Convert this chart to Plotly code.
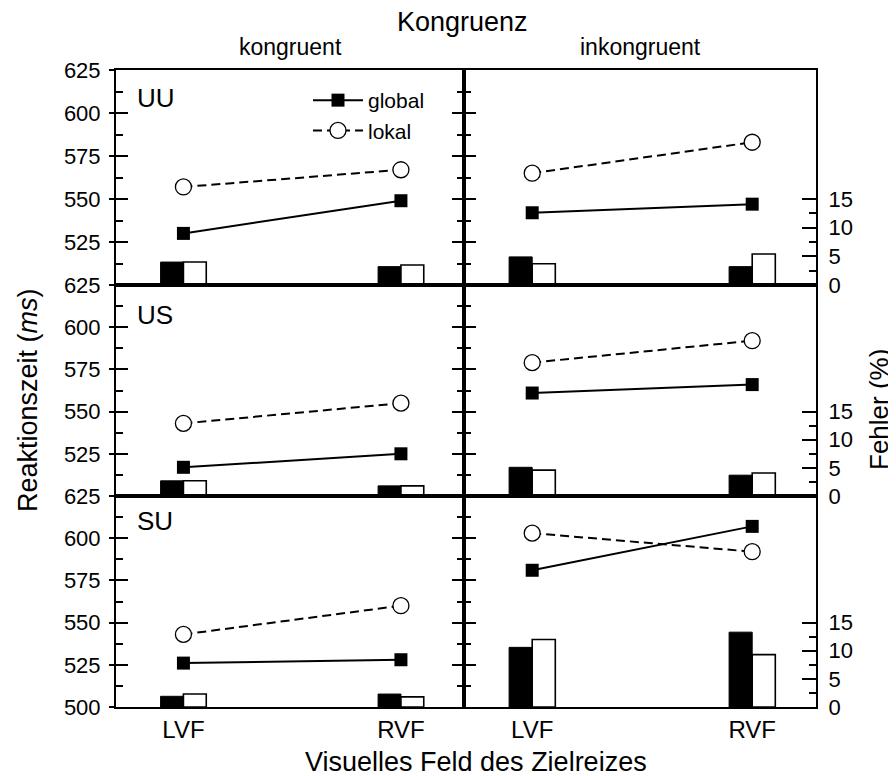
import plotly.graph_objects as go

# ---------------- data ----------------
fields = ["LVF", "RVF"]                 # x categories
field_pos = [1, 2]
conditions = ["UU", "US", "SU"]          # rows
congruency = ["kongruent", "inkongruent"]  # columns

# reaction times (ms), rows UU, US, SU ; values for LVF, RVF
rt_global_kongruent = [[530, 549], [517, 525], [526, 528]]
rt_global_inkongruent = [[542, 547], [561, 566], [581, 607]]
rt_lokal_kongruent = [[557, 567], [543, 555], [543, 560]]
rt_lokal_inkongruent = [[565, 583], [579, 592], [603, 592]]

# error rates (%), rows UU, US, SU ; values for LVF, RVF
err_global_kongruent = [[4.0, 3.2], [2.7, 1.8], [1.9, 2.3]]
err_global_inkongruent = [[4.9, 3.2], [5.1, 3.7], [10.6, 13.3]]
err_lokal_kongruent = [[4.0, 3.5], [2.7, 1.8], [2.3, 1.8]]
err_lokal_inkongruent = [[3.7, 5.4], [4.6, 4.1], [12.0, 9.3]]

rt_ticks = [500, 525, 550, 575, 600, 625]
rt_minor = [512.5, 537.5, 562.5, 587.5, 612.5]
err_ticks = [0, 5, 10, 15]
err_minor = [2.5, 7.5, 12.5]

# ---------------- layout ----------------
FONT = "Liberation Sans, Arial, sans-serif"
OFF = 8                       # page body margin
W, H = 896 - OFF, 776 - OFF
L, T = 116 - OFF, 70 - OFF
PW, PH = 700, 637
R, B = W - L - PW, H - T - PH
col_split = 348 / PW
col_domains = [[0, col_split], [col_split, 1]]
row_px = [70, 285, 496, 707]
row_domains = [[(707 - row_px[i + 1]) / PH, (707 - row_px[i]) / PH] for i in range(3)]


def px_x(sx):
    return (sx - 116) / PW


def px_y(sy):
    return (707 - sy) / PH


rt_global = [rt_global_kongruent, rt_global_inkongruent]
rt_lokal = [rt_lokal_kongruent, rt_lokal_inkongruent]
err_global = [err_global_kongruent, err_global_inkongruent]
err_lokal = [err_lokal_kongruent, err_lokal_inkongruent]

fig = go.Figure()
layout = {}


def ax_name(prefix, k):
    return prefix if k == 1 else f"{prefix}{k}"


for r in range(3):
    for c in range(2):
        k = r * 2 + c + 1
        ke = k + 6
        xr = ax_name("x", k)
        yr = ax_name("y", k)
        ye = f"y{ke}"

        # bars (error rates) on the secondary axis
        fig.add_trace(go.Bar(
            x=field_pos, y=err_global[c][r], width=0.105, offset=-0.105,
            marker=dict(color="black", line=dict(color="black", width=1)),
            xaxis=xr, yaxis=ye, showlegend=False, hoverinfo="skip"))
        fig.add_trace(go.Bar(
            x=field_pos, y=err_lokal[c][r], width=0.105, offset=0.0,
            marker=dict(color="white", line=dict(color="black", width=1.6)),
            xaxis=xr, yaxis=ye, showlegend=False, hoverinfo="skip"))

        # reaction-time lines
        fig.add_trace(go.Scatter(
            x=field_pos, y=rt_global[c][r], mode="lines+markers", name="global",
            line=dict(color="black", width=2),
            marker=dict(symbol="square", size=13, color="black"),
            xaxis=xr, yaxis=yr, showlegend=(k == 1), legendrank=1))
        fig.add_trace(go.Scatter(
            x=field_pos, y=rt_lokal[c][r], mode="lines+markers", name="lokal",
            line=dict(color="black", width=2, dash="9px,5px"),
            marker=dict(symbol="circle", size=16, color="white",
                        line=dict(color="black", width=1.3)),
            xaxis=xr, yaxis=yr, showlegend=(k == 1), legendrank=2))

        # x axis
        layout[ax_name("xaxis", k)] = dict(
            domain=col_domains[c], anchor=yr, range=[0.69, 2.29],
            tickmode="array", tickvals=field_pos, ticktext=fields,
            showticklabels=(r == 2), ticks="",
            showline=True, linewidth=2, linecolor="black", mirror=True,
            showgrid=False, zeroline=False,
            tickfont=dict(family=FONT, size=24, color="black"))

        # RT axis
        layout[ax_name("yaxis", k)] = dict(
            domain=row_domains[r], anchor=xr, range=[500, 625],
            tickmode="array", tickvals=rt_ticks, ticks="inside",
            ticklen=12, tickwidth=2, tickcolor="black",
            minor=dict(ticks="inside", ticklen=7, tickwidth=2, tickcolor="black",
                       tickmode="array", tickvals=rt_minor),
            showticklabels=False,
            showline=True, linewidth=2, linecolor="black",
            mirror=("ticks" if c == 0 else False),
            showgrid=False, zeroline=False)

        # error axis
        if c == 1:
            layout[f"yaxis{ke}"] = dict(
                overlaying=yr, anchor=xr, side="right", range=[0, 37.5],
                tickmode="array", tickvals=err_ticks, ticks="inside",
                ticklen=14, tickwidth=2, tickcolor="black",
                minor=dict(ticks="inside", ticklen=7, tickwidth=2, tickcolor="black",
                           tickmode="array", tickvals=err_minor),
                showline=True, linewidth=2, linecolor="black",
                ticklabelstandoff=6,
                tickfont=dict(family=FONT, size=22, color="black"),
                showgrid=False, zeroline=False)
        else:
            layout[f"yaxis{ke}"] = dict(
                overlaying=yr, anchor=xr, side="right", range=[0, 37.5],
                visible=False, showgrid=False, zeroline=False)

    # outside tick stubs + labels for the left RT axis
    ko = 13 + r
    kl = r * 2 + 1
    fig.add_trace(go.Scatter(
        x=field_pos, y=rt_global_kongruent[r], mode="markers",
        marker=dict(opacity=0), xaxis=ax_name("x", kl), yaxis=f"y{ko}",
        showlegend=False, hoverinfo="skip"))
    layout[f"yaxis{ko}"] = dict(
        overlaying=ax_name("y", kl), anchor=ax_name("x", kl), side="left",
        range=[500, 625], tickmode="array", tickvals=rt_ticks,
        ticktext=[str(v) if (v != 500 or r == 2) else "" for v in rt_ticks],
        ticks="outside", ticklen=6, tickwidth=2, tickcolor="black",
        ticklabelstandoff=4,
        showline=False, showgrid=False, zeroline=False,
        tickfont=dict(family=FONT, size=22, color="black"))

annotations = []
# panel labels
label_y = [0.87, 0.86, 0.88]
for r in range(3):
    annotations.append(dict(
        text=conditions[r], xref=f"{ax_name('x', r * 2 + 1)} domain",
        yref=f"{ax_name('y', r * 2 + 1)} domain", x=0.055, y=label_y[r],
        xanchor="left", yanchor="middle", showarrow=False,
        font=dict(family=FONT, size=26, color="black")))
# column titles
for c in range(2):
    annotations.append(dict(
        text=congruency[c], xref="paper", yref="paper",
        x=(col_domains[c][0] + col_domains[c][1]) / 2, y=px_y(47),
        xanchor="center", yanchor="middle", showarrow=False,
        font=dict(family=FONT, size=23, color="black")))
annotations += [
    dict(text="Kongruenz", xref="paper", yref="paper", x=px_x(462), y=px_y(22),
         xanchor="center", yanchor="middle", showarrow=False,
         font=dict(family=FONT, size=27, color="black")),
    dict(text="Visuelles Feld des Zielreizes", xref="paper", yref="paper",
         x=px_x(476), y=px_y(762), xanchor="center", yanchor="middle",
         showarrow=False, font=dict(family=FONT, size=27, color="black")),
    dict(text="Reaktionszeit (<i>ms</i>)", xref="paper", yref="paper",
         x=px_x(28), y=px_y(400), textangle=-90,
         xanchor="center", yanchor="middle", showarrow=False,
         font=dict(family=FONT, size=27, color="black")),
    dict(text="Fehler (%)", xref="paper", yref="paper",
         x=px_x(879), y=px_y(410), textangle=-90,
         xanchor="center", yanchor="middle", showarrow=False,
         font=dict(family=FONT, size=26, color="black")),
]

fig.update_layout(
    width=W, height=H,
    margin=dict(l=L, r=R, t=T, b=B, pad=0),
    paper_bgcolor="white", plot_bgcolor="white",
    barmode="overlay",
    font=dict(family=FONT, size=21, color="black"),
    legend=dict(x=px_x(308), y=px_y(80), xanchor="left", yanchor="top",
                itemwidth=50, bgcolor="rgba(0,0,0,0)", borderwidth=0,
                tracegroupgap=0,
                font=dict(family=FONT, size=21, color="black")),
    annotations=annotations,
    **layout,
)

fig.write_html("out.html")
